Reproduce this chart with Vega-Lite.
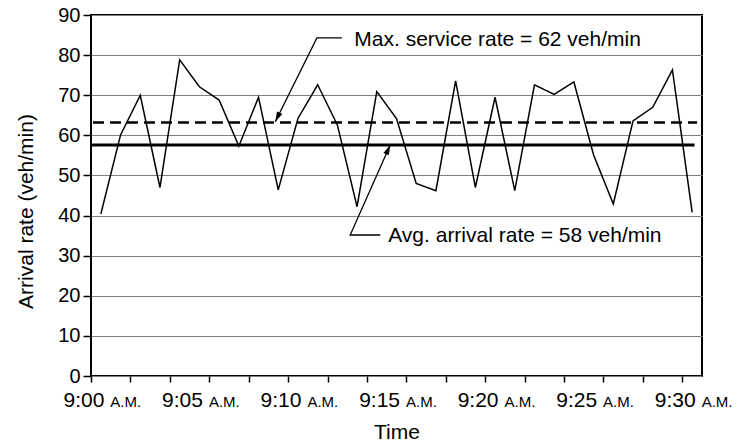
{
  "$schema": "https://vega.github.io/schema/vega-lite/v6.json",
  "width": 611,
  "height": 361,
  "autosize": {"type": "none"},
  "padding": {"left": 91, "top": 15, "right": 36, "bottom": 67},
  "background": "white",
  "config": {
    "view": {"stroke": "black", "strokeWidth": 2},
    "font": "Liberation Sans",
    "axis": {
      "labelFont": "Liberation Sans",
      "titleFont": "Liberation Sans",
      "labelColor": "black",
      "titleColor": "black",
      "titleFontWeight": "normal",
      "labelFlush": false,
      "labelOverlap": false
    }
  },
  "datasets": {
    "arrivals": [
      {"m": 0, "v": 40.4}, {"m": 1, "v": 60.1}, {"m": 2, "v": 70.0}, {"m": 3, "v": 47.0},
      {"m": 4, "v": 78.8}, {"m": 5, "v": 72.1}, {"m": 6, "v": 68.8}, {"m": 7, "v": 57.3},
      {"m": 8, "v": 69.5}, {"m": 9, "v": 46.4}, {"m": 10, "v": 64.2}, {"m": 11, "v": 72.6},
      {"m": 12, "v": 62.6}, {"m": 13, "v": 42.2}, {"m": 14, "v": 70.9}, {"m": 15, "v": 64.2},
      {"m": 16, "v": 48.0}, {"m": 17, "v": 46.2}, {"m": 18, "v": 73.6}, {"m": 19, "v": 47.0},
      {"m": 20, "v": 69.5}, {"m": 21, "v": 46.2}, {"m": 22, "v": 72.6}, {"m": 23, "v": 70.2},
      {"m": 24, "v": 73.3}, {"m": 25, "v": 55.1}, {"m": 26, "v": 42.9}, {"m": 27, "v": 63.6},
      {"m": 28, "v": 67.0}, {"m": 29, "v": 76.3}, {"m": 30, "v": 40.8}
    ],
    "rates": [
      {"name": "avg", "v": 57.6, "m0": -0.5, "m1": 30.12},
      {"name": "max", "v": 63.2, "m0": -0.4, "m1": 30.25}
    ],
    "leaders": [
      {"g": "max", "o": 0, "m": 12.23, "v": 84.3},
      {"g": "max", "o": 1, "m": 10.96, "v": 84.3},
      {"g": "max", "o": 2, "m": 8.85, "v": 63.4},
      {"g": "avg", "o": 0, "m": 14.18, "v": 35.15},
      {"g": "avg", "o": 1, "m": 12.65, "v": 35.15},
      {"g": "avg", "o": 2, "m": 14.68, "v": 57.6}
    ],
    "notes": [
      {"m": 12.86, "v": 82.27, "text": "Max. service rate = 62 veh/min"},
      {"m": 14.58, "v": 33.41, "text": "Avg. arrival rate = 58 veh/min"}
    ]
  },
  "resolve": {"axis": {"x": "independent", "y": "independent"}},
  "layer": [
    {
      "data": {"name": "arrivals"},
      "mark": {"type": "line", "color": "black", "strokeWidth": 1.5},
      "encoding": {
        "x": {
          "field": "m", "type": "quantitative",
          "scale": {"domain": [-0.5, 30.5], "nice": false, "zero": false},
          "axis": {
            "orient": "bottom",
            "values": [-0.5, 1.5, 3.5, 5.5, 7.5, 9.5, 11.5, 13.5, 15.5, 17.5, 19.5, 21.5, 23.5, 25.5, 27.5, 29.5],
            "labels": false, "domain": false, "grid": false,
            "ticks": true, "tickColor": "black", "tickSize": 6, "tickWidth": 1.5,
            "title": "Time", "titleFontSize": 21, "titleY": 62, "titleBaseline": "alphabetic"
          }
        },
        "y": {
          "field": "v", "type": "quantitative",
          "scale": {"domain": [0, 90], "nice": false, "zero": false},
          "axis": {
            "values": [0, 10, 20, 30, 40, 50, 60, 70, 80, 90],
            "grid": true, "gridColor": "#808080", "gridWidth": 1, "gridOpacity": 1,
            "domain": false, "tickColor": "black", "tickSize": 8, "tickWidth": 1.5,
            "labelFontSize": 20, "labelPadding": 3,
            "title": "Arrival rate (veh/min)", "titleFontSize": 21,
            "titleX": -59, "titleY": 196, "titleBaseline": "alphabetic", "titleAngle": -90
          }
        }
      }
    },
    {
      "data": {"name": "rates"},
      "transform": [{"filter": "datum.name === 'avg'"}],
      "mark": {"type": "rule", "color": "black", "strokeWidth": 3},
      "encoding": {
        "x": {
          "field": "m0", "type": "quantitative",
          "scale": {"domain": [-0.5, 30.5], "nice": false, "zero": false},
          "axis": {
            "orient": "bottom",
            "values": [0, 5, 10, 15, 20, 25, 30],
            "labelExpr": "'9:' + (datum.value < 10 ? '0' : '') + datum.value",
            "ticks": false, "tickSize": 0, "domain": false, "grid": false,
            "labelAlign": "right", "labelOffset": 3, "labelBaseline": "alphabetic",
            "labelPadding": 30, "labelFontSize": 21, "title": null
          }
        },
        "x2": {"field": "m1"},
        "y": {"field": "v", "type": "quantitative", "scale": {"domain": [0, 90], "nice": false, "zero": false}, "axis": null}
      }
    },
    {
      "data": {"name": "rates"},
      "transform": [{"filter": "datum.name === 'max'"}],
      "mark": {"type": "rule", "color": "black", "strokeWidth": 2.5, "strokeDash": [11, 6]},
      "encoding": {
        "x": {
          "field": "m0", "type": "quantitative",
          "scale": {"domain": [-0.5, 30.5], "nice": false, "zero": false},
          "axis": {
            "orient": "bottom",
            "values": [0, 5, 10, 15, 20, 25, 30],
            "labelExpr": "'A.M.'",
            "ticks": false, "tickSize": 0, "domain": false, "grid": false,
            "labelAlign": "left", "labelOffset": 9, "labelBaseline": "alphabetic",
            "labelPadding": 30, "labelFontSize": 15, "title": null
          }
        },
        "x2": {"field": "m1"},
        "y": {"field": "v", "type": "quantitative", "scale": {"domain": [0, 90], "nice": false, "zero": false}, "axis": null}
      }
    },
    {
      "data": {"name": "leaders"},
      "mark": {"type": "line", "color": "black", "strokeWidth": 1.3},
      "encoding": {
        "x": {"field": "m", "type": "quantitative", "scale": {"domain": [-0.5, 30.5], "nice": false, "zero": false}, "axis": null},
        "y": {"field": "v", "type": "quantitative", "scale": {"domain": [0, 90], "nice": false, "zero": false}, "axis": null},
        "detail": {"field": "g"},
        "order": {"field": "o"}
      }
    },
    {
      "data": {"name": "leaders"},
      "transform": [{"filter": "datum.g === 'max' && datum.o === 2"}],
      "mark": {"type": "point", "shape": "M0,0L0.6,2L-0.6,2Z", "filled": true, "color": "black", "opacity": 1, "size": 100, "angle": 206},
      "encoding": {
        "x": {"field": "m", "type": "quantitative", "scale": {"domain": [-0.5, 30.5], "nice": false, "zero": false}, "axis": null},
        "y": {"field": "v", "type": "quantitative", "scale": {"domain": [0, 90], "nice": false, "zero": false}, "axis": null}
      }
    },
    {
      "data": {"name": "leaders"},
      "transform": [{"filter": "datum.g === 'avg' && datum.o === 2"}],
      "mark": {"type": "point", "shape": "M0,0L0.6,2L-0.6,2Z", "filled": true, "color": "black", "opacity": 1, "size": 100, "angle": 24},
      "encoding": {
        "x": {"field": "m", "type": "quantitative", "scale": {"domain": [-0.5, 30.5], "nice": false, "zero": false}, "axis": null},
        "y": {"field": "v", "type": "quantitative", "scale": {"domain": [0, 90], "nice": false, "zero": false}, "axis": null}
      }
    },
    {
      "data": {"name": "notes"},
      "mark": {"type": "text", "align": "left", "baseline": "alphabetic", "fontSize": 21, "font": "Liberation Sans", "color": "black"},
      "encoding": {
        "x": {"field": "m", "type": "quantitative", "scale": {"domain": [-0.5, 30.5], "nice": false, "zero": false}, "axis": null},
        "y": {"field": "v", "type": "quantitative", "scale": {"domain": [0, 90], "nice": false, "zero": false}, "axis": null},
        "text": {"field": "text"}
      }
    }
  ]
}
